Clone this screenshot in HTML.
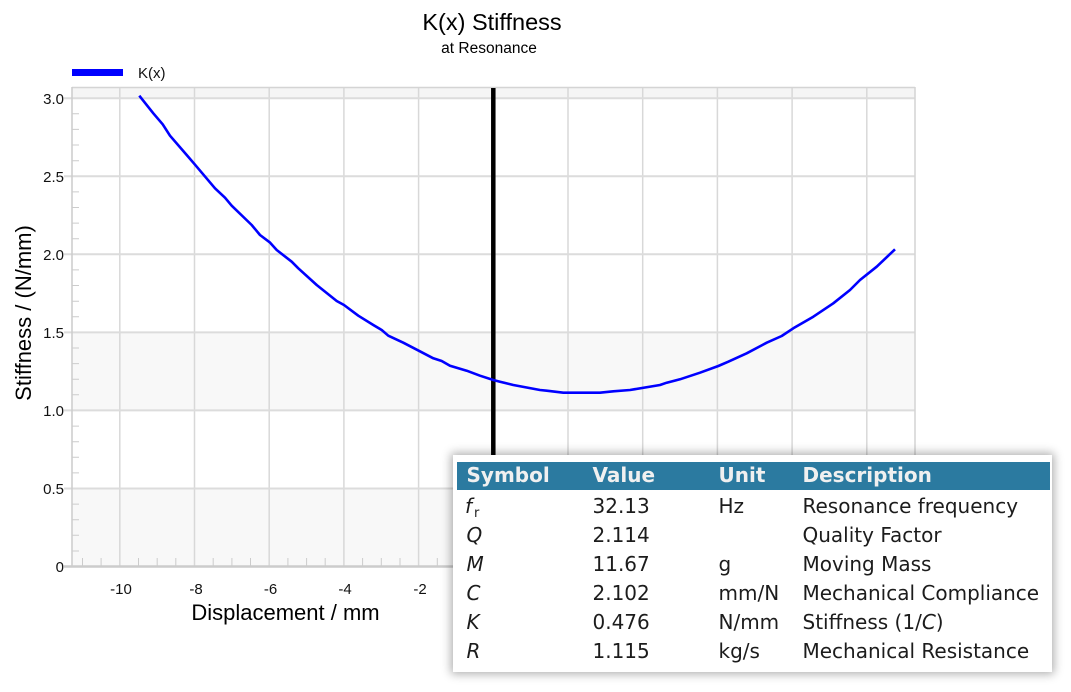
<!DOCTYPE html>
<html><head><meta charset="utf-8"><style>
html,body{margin:0;padding:0;background:#fff;}
body{width:1071px;height:692px;position:relative;overflow:hidden;}
svg{position:absolute;left:0;top:0;}
#box{position:absolute;left:453px;top:455px;width:599px;height:217px;background:#fff;box-shadow:0 0 9px 2px rgba(0,0,0,0.32);}
</style></head><body>
<svg width="1071" height="692" xmlns="http://www.w3.org/2000/svg" font-family="Liberation Sans, Arial, sans-serif">
<!-- bands -->
<rect x="72" y="87" width="843" height="480" fill="#fff"/>
<rect x="72" y="488.5" width="843" height="78" fill="#f8f8f8"/>
<rect x="72" y="332.4" width="843" height="78" fill="#f8f8f8"/>
<rect x="72" y="87" width="843" height="11.2" fill="#f5f5f5"/>
<!-- vertical grid -->
<g stroke="#d8d8d8" stroke-width="1.5">
<line x1="119.8" y1="87" x2="119.8" y2="566"/>
<line x1="194.5" y1="87" x2="194.5" y2="566"/>
<line x1="269.2" y1="87" x2="269.2" y2="566"/>
<line x1="343.9" y1="87" x2="343.9" y2="566"/>
<line x1="418.6" y1="87" x2="418.6" y2="566"/>
<line x1="568" y1="87" x2="568" y2="566"/>
<line x1="642.7" y1="87" x2="642.7" y2="566"/>
<line x1="717.4" y1="87" x2="717.4" y2="566"/>
<line x1="792.1" y1="87" x2="792.1" y2="566"/>
<line x1="866.8" y1="87" x2="866.8" y2="566"/>
</g>
<!-- horizontal grid -->
<g stroke="#dcdcdc" stroke-width="2">
<line x1="64" y1="488.5" x2="915" y2="488.5"/>
<line x1="64" y1="410.4" x2="915" y2="410.4"/>
<line x1="64" y1="332.4" x2="915" y2="332.4"/>
<line x1="64" y1="254.3" x2="915" y2="254.3"/>
<line x1="64" y1="176.3" x2="915" y2="176.3"/>
<line x1="64" y1="98.2" x2="915" y2="98.2"/>
</g>
<!-- frame -->
<line x1="72" y1="87.5" x2="915" y2="87.5" stroke="#d4d4d4" stroke-width="1.5"/>
<line x1="915" y1="87" x2="915" y2="567" stroke="#d4d4d4" stroke-width="1.5"/>
<line x1="72" y1="87" x2="72" y2="567" stroke="#cccccc" stroke-width="1.5"/>
<line x1="64" y1="566.5" x2="915" y2="566.5" stroke="#cccccc" stroke-width="2.5"/>
<!-- minor y ticks -->
<g stroke="#cccccc" stroke-width="1">
<path d="M72 551H79M72 535.3H79M72 519.7H79M72 504.1H79M72 472.9H79M72 457.3H79M72 441.7H79M72 426.1H79M72 394.8H79M72 379.2H79M72 363.6H79M72 348H79M72 316.8H79M72 301.2H79M72 285.5H79M72 269.9H79M72 238.7H79M72 223.1H79M72 207.5H79M72 191.9H79M72 160.7H79M72 145H79M72 129.4H79M72 113.8H79"/>
<path d="M82.5 566V558M101.1 566V558M138.5 566V558M157.2 566V558M175.8 566V558M213.2 566V558M231.9 566V558M250.5 566V558M287.9 566V558M306.6 566V558M325.2 566V558M362.6 566V558M381.3 566V558M400 566V558M437.3 566V558M456 566V558M474.7 566V558M512 566V558M530.7 566V558M549.4 566V558M586.7 566V558M605.4 566V558M624 566V558M661.4 566V558M680 566V558M698.7 566V558M736.1 566V558M754.7 566V558M773.4 566V558M810.8 566V558M829.4 566V558M848.1 566V558M885.5 566V558M904.1 566V558"/>
</g>
<!-- y tick labels -->
<g font-size="15" fill="#111" text-anchor="end">
<text x="64" y="572">0</text>
<text x="64" y="494">0.5</text>
<text x="64" y="416">1.0</text>
<text x="64" y="338">1.5</text>
<text x="64" y="260">2.0</text>
<text x="64" y="182">2.5</text>
<text x="64" y="104">3.0</text>
</g>
<!-- x tick labels -->
<g font-size="15" fill="#111" text-anchor="middle">
<text x="121" y="594">-10</text>
<text x="196" y="594">-8</text>
<text x="270.5" y="594">-6</text>
<text x="345" y="594">-4</text>
<text x="420" y="594">-2</text>
<text x="493.3" y="594">0</text>
<text x="568" y="594">2</text>
</g>
<!-- axis titles -->
<text x="285.5" y="620" font-size="22" text-anchor="middle" fill="#000">Displacement / mm</text>
<text transform="translate(31,313) rotate(-90)" font-size="22" text-anchor="middle" fill="#000">Stiffness / (N/mm)</text>
<!-- title -->
<text x="492" y="30" font-size="23.5" text-anchor="middle" fill="#000">K(x) Stiffness</text>
<text x="489" y="53" font-size="15.5" text-anchor="middle" fill="#000">at Resonance</text>
<!-- legend -->
<rect x="72" y="69" width="51" height="7" fill="#0000ff"/>
<text x="138" y="78" font-size="15" fill="#111">K(x)</text>
<!-- black marker line -->
<line x1="493.3" y1="88" x2="493.3" y2="566" stroke="#000" stroke-width="4.5"/>
<!-- curve -->
<polyline fill="none" stroke="#0000ff" stroke-width="2.6" stroke-linejoin="round" points="139.3,95.7 153.3,113.3 162.7,124.3 170,135.7 186.7,155 194.7,164.3 215,188.3 225,197.7 231.7,205.7 251.7,225 260,235 269.7,242.3 276.7,250 291.7,261.7 298.3,268.3 316.7,285 336.7,301 344,305 358.3,315.7 373.3,325 381.7,330 388.3,335.7 403.3,342.7 418.7,350.7 433.3,358.3 441.7,361 450,365.7 466.7,370.7 480,375.7 493.3,380 500,381.7 513.3,385 540,390 546.7,390.7 563.3,392.7 600,392.7 613.3,391.3 630,390 660,385 666.7,382.7 680,379.3 700,372.7 718.3,366 728.3,361.7 746.7,353.3 766.7,342.7 781.7,336 793.3,328.3 813.3,316.7 833.3,303.3 850,290 860,280 876.7,266.7 895,249.3"/>
</svg>
<div id="box"></div>
<svg width="1071" height="692" xmlns="http://www.w3.org/2000/svg" font-family="DejaVu Sans, Verdana, sans-serif">
<rect x="457" y="462" width="593" height="28" fill="#2b7aa0"/>
<g font-size="20" font-weight="bold" fill="#f0f0f0">
<text x="466.5" y="482">Symbol</text>
<text x="592.5" y="482">Value</text>
<text x="718.5" y="482">Unit</text>
<text x="802.5" y="482">Description</text>
</g>
<g font-size="20" fill="#1c1c1c">
<text x="465" y="513" font-style="italic">f</text><text x="474" y="517" font-size="13">r</text>
<text x="592.5" y="513">32.13</text>
<text x="718.5" y="513">Hz</text>
<text x="802.5" y="513">Resonance frequency</text>

<text x="466.5" y="542" font-style="italic">Q</text>
<text x="592.5" y="542">2.114</text>
<text x="802.5" y="542">Quality Factor</text>

<text x="466.5" y="571" font-style="italic">M</text>
<text x="592.5" y="571">11.67</text>
<text x="718.5" y="571">g</text>
<text x="802.5" y="571">Moving Mass</text>

<text x="466.5" y="600" font-style="italic">C</text>
<text x="592.5" y="600">2.102</text>
<text x="718.5" y="600">mm/N</text>
<text x="802.5" y="600">Mechanical Compliance</text>

<text x="466.5" y="629" font-style="italic">K</text>
<text x="592.5" y="629">0.476</text>
<text x="718.5" y="629">N/mm</text>
<text x="802.5" y="629">Stiffness (1/<tspan font-style="italic">C</tspan>)</text>

<text x="466.5" y="658" font-style="italic">R</text>
<text x="592.5" y="658">1.115</text>
<text x="718.5" y="658">kg/s</text>
<text x="802.5" y="658">Mechanical Resistance</text>
</g>
</svg>
</body></html>
